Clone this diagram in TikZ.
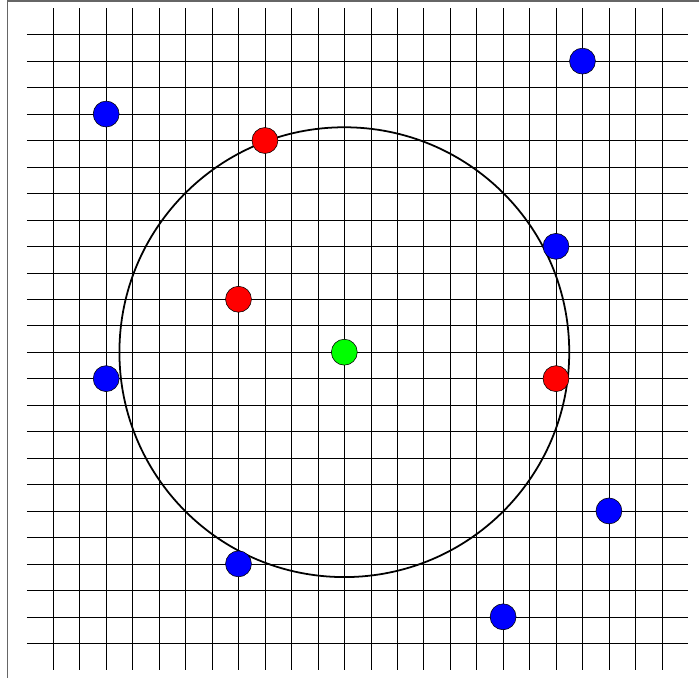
\documentclass[tikz,border=0pt]{standalone}
\usepackage{tikz}

\begin{document}
\begin{tikzpicture}[
  gridline/.style={line width=0.5pt},
  ring/.style={line width=1.9pt},
  dot/.style={circle,draw,line width=0.6pt,inner sep=0pt,minimum size=0.98cm},
  bluedot/.style={dot,fill=blue},
  reddot/.style={dot,fill=red},
  greendot/.style={dot,fill=green}
]
  \useasboundingbox (-1.013,-0.31) rectangle (25.404,25.31);
  \draw[line width=1.6pt,black!60] (-0.73,-2) rectangle (27,25.28);
  % grid
  \foreach \i in {1,...,24} {
    \draw[gridline] (\i,0) -- (\i,25);
    \draw[gridline] (0,\i) -- (25,\i);
  }
  \coordinate (centre) at (12,12);
  \draw[ring] (centre) circle (8.5);
  % points
  \node[bluedot] (b1) at (3,21) {};
  \node[bluedot] (b2) at (21,23) {};
  \node[bluedot] (b3) at (20,16) {};
  \node[bluedot] (b4) at (3,11) {};
  \node[bluedot] (b5) at (22,6) {};
  \node[bluedot] (b6) at (8,4) {};
  \node[bluedot] (b7) at (18,2) {};
  \node[reddot] (r1) at (9,20) {};
  \node[reddot] (r2) at (8,14) {};
  \node[reddot] (r3) at (20,11) {};
  \node[greendot] (g) at (centre) {};
\end{tikzpicture}
\end{document}
